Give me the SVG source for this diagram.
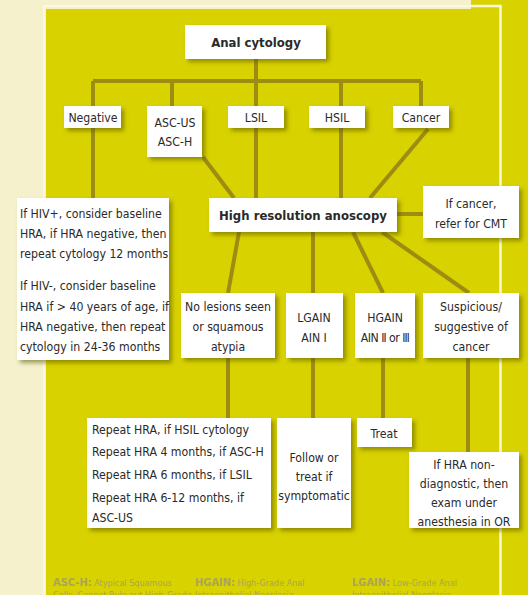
<svg xmlns="http://www.w3.org/2000/svg" width="528" height="595" viewBox="0 0 528 595">
<defs>
<filter id="sh" x="-20%" y="-20%" width="150%" height="160%">
<feDropShadow dx="3" dy="3" stdDeviation="2" flood-color="#5a5400" flood-opacity="0.55"/>
</filter>
<style>
.box{fill:#ffffff;filter:url(#sh);}
.t{font-family:'Liberation Sans Narrow','DejaVu Sans Condensed','Liberation Sans',sans-serif;font-stretch:condensed;font-size:12.2px;fill:#2a2a2a;}
.c{text-anchor:middle;}
.b{font-weight:bold;font-size:13px;}
.ln{stroke:#9c8c12;stroke-width:4;fill:none;}
.ft{font-family:'Liberation Sans Narrow','DejaVu Sans Condensed','Liberation Sans',sans-serif;font-stretch:condensed;font-size:9px;fill:#aaa45c;}
.fb{font-weight:bold;font-size:11px;}
</style>
</defs>
<rect x="0" y="0" width="528" height="595" fill="#f4f1cc"/>
<rect x="46" y="9" width="482" height="586" fill="#d8d200"/>
<rect x="471" y="0" width="57" height="9" fill="#d8d200"/>
<path d="M44 6 V595 M44 6 H500.5 V595" stroke="#fbf8dc" stroke-width="2.5" fill="none"/>

<g id="connectors">
<path class="ln" d="M256 59 V81 M93 81 H421 M93 81 V198 M172 81 V106 M256 81 V198 M341 81 V198 M421 81 V106"/>
<path class="ln" d="M203 157 L234 198"/>
<path class="ln" d="M428 129 L370 198"/>
<path class="ln" d="M397 214 H423"/>
<path class="ln" d="M239 232 L228 293"/>
<path class="ln" d="M313 232 V293"/>
<path class="ln" d="M353 232 L383 293"/>
<path class="ln" d="M382 232 L469 293"/>
<path class="ln" d="M228 358 V418"/>
<path class="ln" d="M313 358 V418"/>
<path class="ln" d="M383 358 V418"/>
<path class="ln" d="M468 358 V452"/>
</g>

<g id="anal-cytology">
<rect class="box" x="185" y="25" width="141" height="34"/>
<text class="t c b" x="256" y="47">Anal cytology</text>
</g>
<g id="negative">
<rect class="box" x="64" y="106" width="57" height="22"/>
<text class="t c" x="93" y="122">Negative</text>
</g>
<g id="ascus">
<rect class="box" x="147" y="106" width="55" height="51"/>
<text class="t c" x="175" y="127">ASC-US</text>
<text class="t c" x="175" y="146">ASC-H</text>
</g>
<g id="lsil">
<rect class="box" x="228" y="106" width="56" height="22"/>
<text class="t c" x="256" y="122">LSIL</text>
</g>
<g id="hsil">
<rect class="box" x="309" y="106" width="56" height="22"/>
<text class="t c" x="337" y="122">HSIL</text>
</g>
<g id="cancer">
<rect class="box" x="393" y="106" width="56" height="22"/>
<text class="t c" x="421" y="122">Cancer</text>
</g>
<g id="hiv-note">
<rect class="box" x="17" y="198" width="152" height="162"/>
<text class="t" x="20" y="218">If HIV+, consider baseline</text>
<text class="t" x="20" y="238">HRA, if HRA negative, then</text>
<text class="t" x="20" y="258">repeat cytology 12 months</text>
<text class="t" x="20" y="290">If HIV-, consider baseline</text>
<text class="t" x="20" y="311">HRA if &gt; 40 years of age, if</text>
<text class="t" x="20" y="331">HRA negative, then repeat</text>
<text class="t" x="20" y="351">cytology in 24-36 months</text>
</g>
<g id="hra">
<rect class="box" x="209" y="198" width="188" height="34"/>
<text class="t c b" x="303" y="220">High resolution anoscopy</text>
</g>
<g id="if-cancer">
<rect class="box" x="423" y="186" width="96" height="52"/>
<text class="t c" x="471" y="208">If cancer,</text>
<text class="t c" x="471" y="228">refer for CMT</text>
</g>
<g id="no-lesions">
<rect class="box" x="181" y="293" width="94" height="65"/>
<text class="t c" x="228" y="311">No lesions seen</text>
<text class="t c" x="228" y="331">or squamous</text>
<text class="t c" x="228" y="351">atypia</text>
</g>
<g id="lgain">
<rect class="box" x="286" y="293" width="57" height="65"/>
<text class="t c" x="314" y="322">LGAIN</text>
<text class="t c" x="314" y="342">AIN I</text>
</g>
<g id="hgain">
<rect class="box" x="355" y="293" width="60" height="65"/>
<text class="t c" x="385" y="322">HGAIN</text>
<text class="t c" x="385" y="342" letter-spacing="-0.5">AIN Ⅱ or Ⅲ</text>
</g>
<g id="suspicious">
<rect class="box" x="423" y="293" width="96" height="65"/>
<text class="t c" x="471" y="311">Suspicious/</text>
<text class="t c" x="471" y="331">suggestive of</text>
<text class="t c" x="471" y="351">cancer</text>
</g>
<g id="repeat">
<rect class="box" x="87" y="418" width="184" height="110"/>
<text class="t" x="92" y="434">Repeat HRA, if HSIL cytology</text>
<text class="t" x="92" y="456">Repeat HRA 4 months, if ASC-H</text>
<text class="t" x="92" y="479">Repeat HRA 6 months, if LSIL</text>
<text class="t" x="92" y="502">Repeat HRA 6-12 months, if</text>
<text class="t" x="92" y="522">ASC-US</text>
</g>
<g id="follow">
<rect class="box" x="277" y="418" width="74" height="110"/>
<text class="t c" x="314" y="462">Follow or</text>
<text class="t c" x="314" y="481">treat if</text>
<text class="t c" x="314" y="500">symptomatic</text>
</g>
<g id="treat">
<rect class="box" x="357" y="418" width="55" height="29"/>
<text class="t c" x="384" y="438">Treat</text>
</g>
<g id="non-diagnostic">
<rect class="box" x="409" y="452" width="110" height="76"/>
<text class="t c" x="464" y="469">If HRA non-</text>
<text class="t c" x="464" y="488">diagnostic, then</text>
<text class="t c" x="464" y="507">exam under</text>
<text class="t c" x="464" y="526">anesthesia in OR</text>
</g>
<g id="legend">
<text class="ft" x="53" y="586"><tspan class="fb">ASC-H:</tspan> Atypical Squamous</text>
<text class="ft" x="53" y="598">Cells, Cannot Rule out High-Grade</text>
<text class="ft" x="195" y="586"><tspan class="fb">HGAIN:</tspan> High-Grade Anal</text>
<text class="ft" x="195" y="598">Intraepithelial Neoplasia</text>
<text class="ft" x="352" y="586"><tspan class="fb">LGAIN:</tspan> Low-Grade Anal</text>
<text class="ft" x="352" y="598">Intraepithelial Neoplasia</text>
</g>
</svg>
